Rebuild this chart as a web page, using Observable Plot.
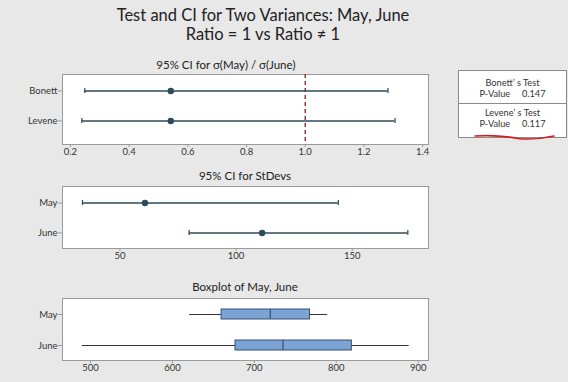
<!DOCTYPE html>
<html><head><meta charset="utf-8">
<script src="https://cdn.jsdelivr.net/npm/d3@7"></script>
<script src="https://cdn.jsdelivr.net/npm/@observablehq/plot@0.6"></script>
<style>
body{margin:0;background:#e8e8e8;width:568px;height:382px;overflow:hidden;position:relative;font-family:Lato,"Open Sans",sans-serif;color:#222}
.t{position:absolute;white-space:nowrap;transform:translateX(-50%);}
.main{font-size:16.5px;line-height:19px}
.sub{font-size:11.5px;line-height:13px}
.panel{position:absolute;left:0}
#tbl{position:absolute;left:458px;top:70px;width:107px;height:66px;background:#fff;border:1px solid #8a8a8a;font-size:9.2px;line-height:11px;color:#333}
#tbl .row{position:absolute;left:0;width:100%;text-align:center;white-space:pre}
#tbl .div{position:absolute;left:0;width:100%;top:32px;border-top:1px solid #8a8a8a}
</style></head><body>
<div class="t main" style="left:263px;top:6px">Test and CI for Two Variances: May, June</div>
<div class="t main" style="left:263px;top:25px">Ratio = 1 vs Ratio ≠ 1</div>
<div class="t sub" style="left:226px;top:58px">95% CI for σ(May) / σ(June)</div>
<div class="t sub" style="left:245px;top:169px">95% CI for StDevs</div>
<div class="t sub" style="left:245px;top:280px">Boxplot of May, June</div>
<div id="p1" class="panel" style="top:64px"></div>
<div id="p2" class="panel" style="top:176px"></div>
<div id="p3" class="panel" style="top:288px"></div>
<div id="tbl"></div>
<svg style="position:absolute;left:470px;top:130px" width="90" height="14"><path d="M5,6 C20,5 35,6 48,8.5 C62,10 75,8 84,6" fill="none" stroke="#d02020" stroke-width="1.6" stroke-linecap="round"/></svg>
<script>
// ratio CI panel
const ratioTests = ["Bonett", "Levene"];
const ratioEst = [0.542, 0.542];
const ratioLo = [0.249, 0.239];
const ratioHi = [1.282, 1.306];
const ratioTicks = [0.2, 0.4, 0.6, 0.8, 1.0, 1.2, 1.4];
const ratioRef = [1];
// StDev CI panel
const months = ["May", "June"];
const sdEst = [60.8, 111.2];
const sdLo = [33.9, 79.8];
const sdHi = [144.0, 173.9];
const sdTicks = [50, 100, 150];
// boxplot panel
const boxMin = [621, 490];
const boxQ1 = [660, 677];
const boxMed = [719.5, 735];
const boxQ3 = [768, 819];
const boxMax = [789.5, 889];
const boxTicks = [500, 600, 700, 800, 900];
// test table
const testNames = ["Bonett’ s Test", "Levene’ s Test"];
const pValues = [0.147, 0.117];

const lineCol = "#2b4b5a";
const frameCol = "#9a9a9a";
const baseStyle = {background: "transparent", fontFamily: "Lato,'Open Sans',sans-serif", fontSize: "9.5px", color: "#333"};

function ciPanel(cats, est, lo, hi, ticks, xdom, height, yrange, fmt, extra) {
  const data = cats.map((c, i) => ({c, est: est[i], lo: lo[i], hi: hi[i]}));
  return Plot.plot({
    width: 450, height, marginTop: 10, marginBottom: 20, marginLeft: 62, marginRight: 22,
    style: baseStyle,
    x: {domain: xdom},
    y: {type: "band", domain: cats, range: yrange, paddingInner: 0.838, paddingOuter: 0},
    marks: [
      Plot.frame({fill: "white", stroke: frameCol}),
      ...(extra || []),
      Plot.ruleY(data, {y: "c", x1: "lo", x2: "hi", stroke: lineCol, strokeWidth: 1.3}),
      Plot.tickX(data, {y: "c", x: "lo", stroke: lineCol, strokeWidth: 1.2}),
      Plot.tickX(data, {y: "c", x: "hi", stroke: lineCol, strokeWidth: 1.2}),
      Plot.dot(data, {y: "c", x: "est", r: 3.2, fill: lineCol, stroke: "none"}),
      Plot.axisX({ticks, tickFormat: fmt, tickSize: 3, tickPadding: 1, stroke: frameCol, label: null}),
      Plot.axisY({tickSize: 4, tickPadding: 1, stroke: frameCol, label: null})
    ]
  });
}

const p1 = ciPanel(ratioTests, ratioEst, ratioLo, ratioHi, ratioTicks, [0.173, 1.42], 100, [23.2, 59.2], d3.format(".1f"),
  [Plot.ruleX(ratioRef, {stroke: "#8b1a1a", strokeWidth: 1.3, strokeDasharray: "4,3"})]);
document.getElementById("p1").appendChild(p1);

const p2 = ciPanel(months, sdEst, sdLo, sdHi, sdTicks, [25.3, 182.8], 92, [23.8, 59.5], d3.format("d"));
document.getElementById("p2").appendChild(p2);

const boxData = months.map((m, i) => ({m, min: boxMin[i], q1: boxQ1[i], med: boxMed[i], q3: boxQ3[i], max: boxMax[i]}));
const p3 = Plot.plot({
  width: 450, height: 92, marginTop: 10, marginBottom: 20, marginLeft: 62, marginRight: 22,
  style: baseStyle,
  x: {domain: [465.8, 912.6]},
  y: {type: "band", domain: months, range: [20, 62.25], paddingInner: 0.67, paddingOuter: 0},
  marks: [
    Plot.frame({fill: "white", stroke: frameCol}),
    Plot.ruleY(boxData, {y: "m", x1: "min", x2: "max", stroke: "#333", strokeWidth: 1}),
    Plot.barX(boxData, {y: "m", x1: "q1", x2: "q3", fill: "#7ca3d6", stroke: "#34506e", strokeWidth: 1}),
    Plot.tickX(boxData, {y: "m", x: "med", stroke: "#34506e", strokeWidth: 1.2}),
    Plot.axisX({ticks: boxTicks, tickFormat: d3.format("d"), tickSize: 3, tickPadding: 1, stroke: frameCol, label: null}),
    Plot.axisY({tickSize: 4, tickPadding: 1, stroke: frameCol, label: null})
  ]
});
document.getElementById("p3").appendChild(p3);

// table
const tbl = document.getElementById("tbl");
const tops = [[6, 17], [36, 47]];
testNames.forEach((n, i) => {
  const a = document.createElement("div");
  a.className = "row"; a.style.top = tops[i][0] + "px"; a.textContent = n;
  const b = document.createElement("div");
  b.className = "row"; b.style.top = tops[i][1] + "px"; b.textContent = "P-Value     " + d3.format(".3f")(pValues[i]);
  tbl.appendChild(a); tbl.appendChild(b);
});
const dv = document.createElement("div"); dv.className = "div"; tbl.appendChild(dv);
</script>
</body></html>
